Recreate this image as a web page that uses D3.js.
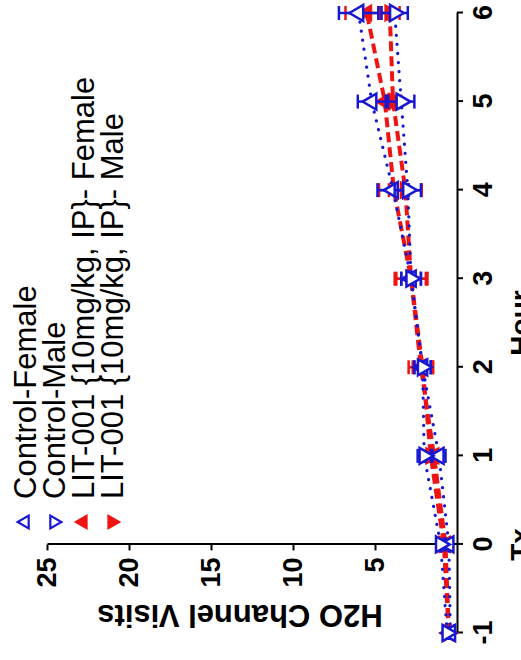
<!DOCTYPE html>
<html>
<head>
<meta charset="utf-8">
<script src="https://cdn.jsdelivr.net/npm/d3@7"></script>
<style>
  html, body { margin: 0; padding: 0; background: #fff; }
  svg { display: block; }
  text { font-family: "Liberation Sans", Arial, Helvetica, sans-serif; }
</style>
</head>
<body>
<svg id="chart" width="521" height="660"></svg>
<script>
// Time points (hours relative to treatment) and axis ticks
const hours = [-1, 0, 1, 2, 3, 4, 5, 6];
const hourTicks = [-1, 0, 1, 2, 3, 4, 5, 6];
const visitTicks = [5, 10, 15, 20, 25];

// Mean H2O channel visits and SEM per group
const seriesNames = ["Control-Female", "Control-Male", "LIT-001 {10mg/kg, IP}- Female", "LIT-001 {10mg/kg, IP}- Male"];
const controlFemale    = [0.4, 0.5, 1.1, 2.1, 2.8, 3.9, 5.2, 6.0];
const controlFemaleErr = [0.15, 0.2, 0.4, 0.5, 0.6, 0.95, 0.85, 1.2];
const controlMale      = [0.6, 1.0, 2.0, 2.1, 2.8, 3.0, 3.4, 3.8];
const controlMaleErr   = [0.15, 0.2, 0.4, 0.5, 0.6, 0.8, 0.8, 0.8];
const litFemale        = [0.5, 0.7, 1.4, 2.2, 2.8, 3.85, 4.4, 5.5];
const litFemaleErr     = [0.15, 0.25, 0.5, 0.75, 1.0, 0.9, 0.6, 1.3];
const litMale          = [0.5, 0.8, 1.6, 2.1, 2.8, 3.15, 3.9, 4.1];
const litMaleErr       = [0.15, 0.25, 0.5, 0.6, 0.9, 1.0, 0.5, 0.6];

const BLUE = "#1818d2";
const RED = "#ee1414";

// Drawing order: treated groups underneath, controls on top
const series = [
  { name: seriesNames[2], values: litFemale, err: litFemaleErr, color: RED, dash: "10 5", width: 4, cap: "butt", down: false, filled: true },
  { name: seriesNames[3], values: litMale, err: litMaleErr, color: RED, dash: "10 5", width: 4, cap: "butt", down: true, filled: true },
  { name: seriesNames[0], values: controlFemale, err: controlFemaleErr, color: BLUE, dash: "0.1 9", width: 3.2, cap: "round", down: false, filled: false },
  { name: seriesNames[1], values: controlMale, err: controlMaleErr, color: BLUE, dash: "0.1 9", width: 3.2, cap: "round", down: true, filled: false }
];
const legendOrder = [2, 3, 0, 1];

// Unrotated plot frame; the whole figure is turned a quarter turn so the
// Hour axis runs bottom-to-top on the page.
const FW = 660, FH = 521;
const svg = d3.select("#chart");
const g = svg.append("g").attr("transform", `translate(0,${FW}) rotate(-90)`);

const x = d3.scaleLinear().domain([-1, 6]).range([27, 647]);
const y = d3.scaleLinear().domain([0, 25]).range([457, 47]);

// Hour axis (crosses at 0 visits)
const xAxis = g.append("g")
  .attr("transform", `translate(0,${y(0)})`)
  .call(d3.axisBottom(x).tickValues(hourTicks).tickSize(6).tickSizeOuter(0).tickPadding(10).tickFormat(d => String(d)));

// Visits axis (crosses at hour 0)
const yAxis = g.append("g")
  .attr("transform", `translate(${x(0)},0)`)
  .call(d3.axisLeft(y).tickValues(visitTicks).tickSize(6).tickSizeOuter(0).tickPadding(7).tickFormat(d => String(d)));

[xAxis, yAxis].forEach(a => {
  a.select(".domain").attr("stroke", "#000").attr("stroke-width", 2);
  a.selectAll(".tick line").attr("stroke", "#000").attr("stroke-width", 2);
  a.selectAll(".tick text").attr("fill", "#000").style("font-size", "27px").style("font-weight", "bold").style("font-family", '"Liberation Sans", Arial, sans-serif');
});

// Axis titles
g.append("text")
  .attr("transform", `translate(55,240) rotate(-90)`)
  .attr("text-anchor", "middle")
  .style("font-size", "31px").style("font-weight", "bold")
  .text("H2O Channel Visits");

g.append("text")
  .attr("x", x(2.5)).attr("y", 530)
  .attr("text-anchor", "middle")
  .style("font-size", "28px").style("font-weight", "bold")
  .text("Hour");

g.append("text")
  .attr("x", x(0)).attr("y", 530)
  .attr("text-anchor", "middle")
  .style("font-size", "28px").style("font-weight", "bold")
  .text("Tx");

// Series: connecting lines, error bars, markers
const line = d3.line().x(d => x(d.h)).y(d => y(d.v));
const triangle = size => d3.symbol().type(d3.symbolTriangle).size(size)();

series.forEach(s => {
  const pts = hours.map((h, i) => ({ h, v: s.values[i], e: s.err[i] }));
  const sg = g.append("g");

  sg.append("path")
    .attr("d", line(pts))
    .attr("fill", "none")
    .attr("stroke", s.color)
    .attr("stroke-width", s.width)
    .attr("stroke-dasharray", s.dash)
    .attr("stroke-linecap", s.cap);

  const eb = sg.selectAll(".eb").data(pts).join("g")
    .attr("stroke", s.color).attr("stroke-width", 2.5);
  eb.append("line")
    .attr("x1", d => x(d.h)).attr("x2", d => x(d.h))
    .attr("y1", d => y(d.v - d.e)).attr("y2", d => y(d.v + d.e));
  eb.append("line")
    .attr("x1", d => x(d.h) - 7).attr("x2", d => x(d.h) + 7)
    .attr("y1", d => y(d.v + d.e)).attr("y2", d => y(d.v + d.e));
  eb.append("line")
    .attr("x1", d => x(d.h) - 7).attr("x2", d => x(d.h) + 7)
    .attr("y1", d => y(d.v - d.e)).attr("y2", d => y(d.v - d.e));

  sg.selectAll(".mk").data(pts).join("path")
    .attr("d", triangle(s.filled ? 90 : 110))
    .attr("transform", d => `translate(${x(d.h)},${y(d.v)}) rotate(${s.down ? 180 : 0})`)
    .attr("fill", s.filled ? s.color : "#fff")
    .attr("stroke", s.color)
    .attr("stroke-width", 2.5);
});

// Legend
const legend = g.append("g");
const legendRows = [25, 54, 83, 112];
legendOrder.forEach((si, r) => {
  const s = series[si];
  legend.append("path")
    .attr("d", triangle(s.filled ? 65 : 70))
    .attr("transform", `translate(138,${legendRows[r]}) rotate(${s.down ? 180 : 0})`)
    .attr("fill", s.filled ? s.color : "#fff")
    .attr("stroke", s.color)
    .attr("stroke-width", 2.2);
  legend.append("text")
    .attr("x", 161).attr("y", legendRows[r]).attr("dy", "0.35em")
    .style("font-size", "31px")
    .text(s.name);
});
</script>
</body>
</html>
